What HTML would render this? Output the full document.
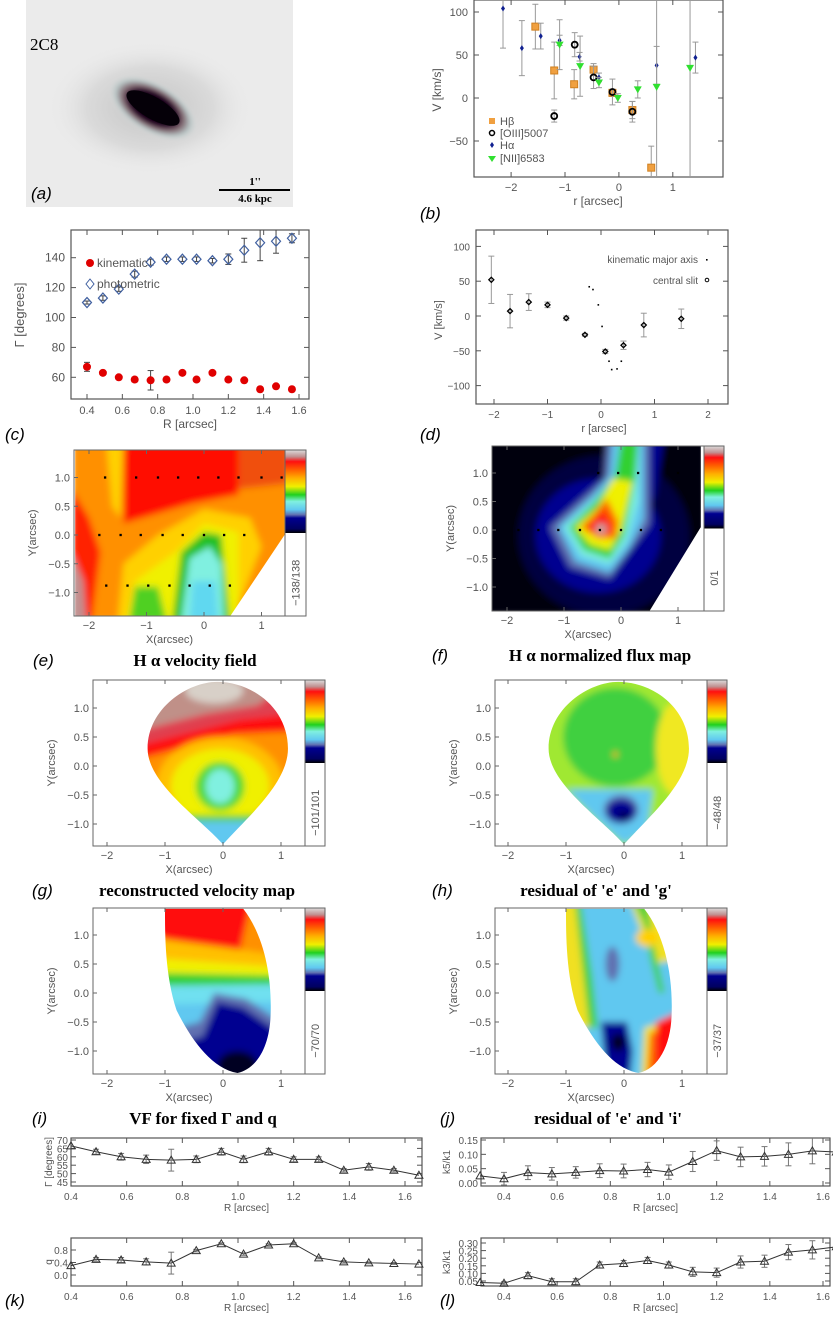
<!DOCTYPE html>
<html><head><meta charset="utf-8">
<style>
html,body{margin:0;padding:0;background:#fff}
svg{display:block}
text{font-family:"Liberation Sans",sans-serif;fill:#555}
.ser{font-family:"Liberation Serif",serif;font-weight:bold;fill:#000}
.pl{font-family:"Liberation Sans",sans-serif;font-style:italic;font-size:17px;fill:#000}
</style></head>
<body>
<svg id="fig" width="833" height="1317" viewBox="0 0 833 1317" xmlns="http://www.w3.org/2000/svg">
<defs>
<linearGradient id="cbar" x1="0" y1="0" x2="0" y2="1">
<stop offset="0" stop-color="#dcdcdc"/><stop offset="0.08" stop-color="#c09090"/>
<stop offset="0.14" stop-color="#ff1010"/><stop offset="0.24" stop-color="#ff6000"/>
<stop offset="0.34" stop-color="#ffb000"/><stop offset="0.44" stop-color="#f0f000"/>
<stop offset="0.54" stop-color="#20d020"/><stop offset="0.62" stop-color="#80f0e0"/>
<stop offset="0.72" stop-color="#60c8f0"/><stop offset="0.78" stop-color="#6070b0"/>
<stop offset="0.82" stop-color="#000090"/><stop offset="0.95" stop-color="#000060"/><stop offset="1" stop-color="#000"/>
</linearGradient>
<filter id="bl" x="-0.2" y="-0.2" width="1.4" height="1.4"><feGaussianBlur stdDeviation="0.06"/></filter>
<filter id="bl2"><feGaussianBlur stdDeviation="1.5"/></filter>
<radialGradient id="gal" cx="0.5" cy="0.5" r="0.5">
<stop offset="0" stop-color="#000"/><stop offset="0.5" stop-color="#200020"/><stop offset="0.66" stop-color="#806870"/><stop offset="0.82" stop-color="#b8c4c4"/><stop offset="1" stop-color="#e0e0e0" stop-opacity="0"/>
</radialGradient>
<radialGradient id="halo" cx="0.5" cy="0.5" r="0.5">
<stop offset="0" stop-color="#c4c4c4"/><stop offset="0.6" stop-color="#dadada"/><stop offset="1" stop-color="#ececec" stop-opacity="0"/>
</radialGradient>
<clipPath id="clipE"><polygon points="-2.24,1.49 1.4,1.49 1.4,0.0 0.45,-1.42 -2.24,-1.42"/></clipPath>
<clipPath id="clipF"><polygon points="-2.3,1.49 1.4,1.49 1.4,0.05 0.5,-1.42 -2.3,-1.42"/></clipPath>
<clipPath id="clipG"><path d="M0,-1.35 C-0.4,-0.9 -1.3,-0.3 -1.3,0.3 C-1.3,1.0 -0.6,1.45 -0.1,1.45 C0.5,1.45 1.12,1.0 1.12,0.3 C1.12,-0.3 0.4,-0.9 0,-1.35 Z"/></clipPath>
<clipPath id="clipI"><path d="M0.25,-1.38 C-0.2,-1.3 -0.55,-0.8 -0.8,-0.3 C-1.0,0.3 -1.0,1.0 -1.0,1.45 L0.35,1.45 C0.7,1.0 0.85,0.3 0.82,-0.4 C0.8,-0.9 0.6,-1.3 0.25,-1.38 Z"/></clipPath>
</defs>

<g>
<rect x="26" y="0" width="267" height="207" fill="#ebebeb"/>
<ellipse cx="150" cy="108" rx="105" ry="68" fill="url(#halo)"/>
<g transform="translate(153,108) rotate(30)"><ellipse cx="0" cy="0" rx="50" ry="26" fill="url(#gal)" filter="url(#bl2)"/><ellipse cx="0" cy="0" rx="30" ry="11" fill="#050008"/></g>
<text class="ser" x="30" y="50" font-size="17" style="font-weight:normal">2C8</text>
<line x1="219" y1="190" x2="290" y2="190" stroke="#000" stroke-width="2"/>
<text class="ser" x="255" y="185" font-size="11" text-anchor="middle">1''</text>
<text class="ser" x="255" y="202" font-size="11" text-anchor="middle">4.6 kpc</text>
</g>
<text class="pl" x="31" y="199">(a)</text>
<text class="pl" x="420" y="219">(b)</text>
<text class="pl" x="5" y="440">(c)</text>
<text class="pl" x="420" y="440">(d)</text>
<g id="charts"></g>
<g id="maps"></g>
</svg>
<script>
const NS='http://www.w3.org/2000/svg';
const root=document.getElementById('charts');
function mk(tag,attrs,parent){const e=document.createElementNS(NS,tag);for(const k in attrs)e.setAttribute(k,attrs[k]);(parent||root).appendChild(e);return e;}
function txt(s,x,y,size,anchor,parent,rot){const t=mk('text',{x:x,y:y,'font-size':size,'text-anchor':anchor||'middle'},parent);t.textContent=s;if(rot)t.setAttribute('transform','rotate(-90 '+x+' '+y+')');return t;}
function lin(a,b,c,d){return v=>c+(v-a)*(d-c)/(b-a);}

const bXTicks=[-2,-1,0,1];
const bYTicks=[-50,0,50,100];
const hbR=[-1.55,-1.2,-0.83,-0.47,-0.12,0.25,0.6];
const hbV=[83,32,16,33,6,-14,-81];
const hbE=[26,33,17,7,4,10,25];
const oR=[-1.2,-0.82,-0.47,-0.12,0.25];
const oV=[-21,62,24,7,-16];
const oE=[7,14,13,15,12];
const haR=[-2.15,-1.8,-1.45,-1.1,-0.73,-0.37,0.7,1.42];
const haV=[104,58,72,67,48,24,38,47];
const haE=[46,32,15,6,5,5,22,18];
const nR=[-1.1,-0.72,-0.37,-0.02,0.35,0.7,1.32];
const nV=[62,37,18,0,10,13,35];
const nE=[29,35,6,5,10,200,200];

const cR=[0.4,0.49,0.58,0.67,0.76,0.85,0.94,1.02,1.11,1.2,1.29,1.38,1.47,1.56];
const kinG=[67,63,60,58.5,58,58.5,63,58.5,63,58.5,58,52,54,52];
const kinE=[3,1,1,1.5,6.5,1.5,1,1,1,1,1,1,1,1];
const phoG=[110,113,119,129,137,139,139,139,138,139,145,150,151,153];
const phoE=[1,1.5,1.5,2,2,1.5,1.5,1.5,1.5,3.5,8,12,8,3];
const cXTicks=[0.4,0.6,0.8,1.0,1.2,1.4,1.6];
const cYTicks=[60,80,100,120,140];

const dR=[-2.05,-1.7,-1.35,-1,-0.65,-0.3,0.08,0.42,0.8,1.5];
const dV=[52,7,20,16,-3,-27,-51,-42,-13,-4];
const dE=[34,24,12,4,3,2,3,6,17,14];
const dkR=[-0.22,-0.15,-0.05,0.02,0.15,0.2,0.3,0.38];
const dkV=[42,38,16,-15,-65,-77,-76,-65];
const dXTicks=[-2,-1,0,1,2];
const dYTicks=[-100,-50,0,50,100];

const kR=[0.4,0.49,0.58,0.67,0.76,0.85,0.94,1.02,1.11,1.2,1.29,1.38,1.47,1.56,1.65];
const kG=[66.5,63,60,58.5,58,58.5,63,58.5,63,58.5,58.5,52,54,52,49];
const kGE=[0,1.5,2,2.5,6.5,2,2,2,2,1.5,1.5,1,2,1,0];
const kQ=[0.3,0.5,0.48,0.42,0.38,0.78,1.0,0.67,0.96,1.0,0.55,0.42,0.39,0.37,0.35];
const kQE=[0,0.06,0.08,0.1,0.35,0.04,0.03,0.04,0.04,0.03,0.03,0.04,0.03,0.03,0];
const lR=[0.31,0.4,0.49,0.58,0.67,0.76,0.85,0.94,1.02,1.11,1.2,1.29,1.38,1.47,1.56,1.65];
const lK5=[0.025,0.015,0.036,0.032,0.037,0.043,0.042,0.047,0.038,0.075,0.113,0.091,0.093,0.1,0.112,0.108];
const lK5E=[0,0.022,0.024,0.022,0.02,0.024,0.024,0.025,0.025,0.035,0.034,0.034,0.034,0.04,0.045,0];
const lK3=[0.04,0.035,0.085,0.045,0.045,0.155,0.165,0.185,0.155,0.11,0.105,0.175,0.18,0.24,0.255,0.275];
const lK3E=[0,0.01,0.02,0.02,0.02,0.02,0.02,0.02,0.02,0.03,0.03,0.04,0.04,0.05,0.06,0];

function frame(x0,y0,x1,y1,name){
  const r=mk('rect',{x:x0,y:y0,width:x1-x0,height:y1-y0,fill:'none',stroke:'#555','stroke-width':1.2});
  
  
}
function xticks(vals,fx,y0,y1,ly,size,fmt){
  vals.forEach(v=>{const x=fx(v);
    mk('line',{x1:x,y1:y1,x2:x,y2:y1-5,stroke:'#555'});mk('line',{x1:x,y1:y0,x2:x,y2:y0+5,stroke:'#555'});
    const t=txt(fmt?fmt(v):String(v).replace('-','−'),x,ly,size);
    
    
  });
}
function yticks(vals,fy,x0,x1,lx,size,fmt){
  vals.forEach(v=>{const y=fy(v);
    mk('line',{x1:x0,y1:y,x2:x0+5,y2:y,stroke:'#555'});mk('line',{x1:x1,y1:y,x2:x1-5,y2:y,stroke:'#555'});
    const t=txt(fmt?fmt(v):String(v).replace('-','−'),lx,y+4,size,'end');
    
    
  });
}
function errbar(x,y1,y2,col,top,bot){
  const yy1=Math.max(top,Math.min(bot,y1)),yy2=Math.max(top,Math.min(bot,y2));
  const g=mk('g',{});
  mk('line',{x1:x,y1:yy1,x2:x,y2:yy2,stroke:col||'#999','stroke-width':1},g);
  if(y1>=top&&y1<=bot)mk('line',{x1:x-3,y1:yy1,x2:x+3,y2:yy1,stroke:col||'#999'},g);
  if(y2>=top&&y2<=bot)mk('line',{x1:x-3,y1:yy2,x2:x+3,y2:yy2,stroke:col||'#999'},g);
  return g;
}

(function(){
  const X0=474,X1=723,Y0=0,Y1=177;
  const fx=lin(0,1,618.9,672.8), fy=lin(0,100,98,12);
  frame(X0,Y0,X1,Y1,'panel-b-frame');
  xticks(bXTicks,fx,Y0,Y1,191,11);
  yticks(bYTicks,fy,X0,X1,468,11);
  let t=txt('r [arcsec]',598,205,12);
  t=txt('V [km/s]',441,90,12,'middle',null,true);
  hbR.forEach((r,i)=>{const x=fx(r),y=fy(hbV[i]);errbar(x,fy(hbV[i]+hbE[i]),fy(hbV[i]-hbE[i]),'#999',Y0,Y1);
    const m=mk('rect',{x:x-3.5,y:y-3.5,width:7,height:7,fill:'#f0a040',stroke:'#d08020'});
    });
  oR.forEach((r,i)=>{const x=fx(r),y=fy(oV[i]);errbar(x,fy(oV[i]+oE[i]),fy(oV[i]-oE[i]),'#999',Y0,Y1);
    const m=mk('circle',{cx:x,cy:y,r:3,fill:'none',stroke:'#000','stroke-width':1.8});
    });
  haR.forEach((r,i)=>{const x=fx(r),y=fy(haV[i]);errbar(x,fy(haV[i]+haE[i]),fy(haV[i]-haE[i]),'#999',Y0,Y1);
    const m=mk('path',{d:`M${x},${y-3}L${x+2},${y}L${x},${y+3}L${x-2},${y}Z`,fill:'#102090'});
    });
  nR.forEach((r,i)=>{const x=fx(r),y=fy(nV[i]);errbar(x,fy(nV[i]+nE[i]),fy(nV[i]-nE[i]),'#999',Y0,Y1);
    const m=mk('path',{d:`M${x-4},${y-3}L${x+4},${y-3}L${x},${y+4}Z`,fill:'#30e030'});
    });
  const lg=mk('g',{});
  mk('rect',{x:489,y:118,width:6,height:6,fill:'#f0a040'},lg);txt('Hβ',500,125,11,'start',lg);
  mk('circle',{cx:492,cy:133,r:2.5,fill:'none',stroke:'#000','stroke-width':1.5},lg);txt('[OIII]5007',500,137,11,'start',lg);
  mk('path',{d:'M492,142L494,145L492,148L490,145Z',fill:'#102090'},lg);txt('Hα',500,149,11,'start',lg);
  mk('path',{d:'M488,156L496,156L492,162Z',fill:'#30e030'},lg);txt('[NII]6583',500,162,11,'start',lg);
})();

(function(){
  const X0=71,X1=309,Y0=230,Y1=399;
  const fx=lin(0.4,1.6,87,299), fy=lin(60,140,377.3,257.7);
  frame(X0,Y0,X1,Y1,'panel-c-frame');
  xticks(cXTicks,fx,Y0,Y1,414,11,v=>v.toFixed(1));
  yticks(cYTicks,fy,X0,X1,65,12);
  let t=txt('R [arcsec]',190,428,12);
  t=txt('Γ [degrees]',24,315,13,'middle',null,true);
  cR.forEach((r,i)=>{const x=fx(r);
    errbar(x,fy(phoG[i]+phoE[i]),fy(phoG[i]-phoE[i]),'#444',Y0,Y1);
    const y=fy(phoG[i]);
    const m=mk('path',{d:`M${x},${y-5}L${x+4.5},${y}L${x},${y+5}L${x-4.5},${y}Z`,fill:'none',stroke:'#4060a0','stroke-width':1.2});
    
    errbar(x,fy(kinG[i]+kinE[i]),fy(kinG[i]-kinE[i]),'#444',Y0,Y1);
    const k=mk('circle',{cx:x,cy:fy(kinG[i]),r:4,fill:'#e00000'});
    
  });
  const lg=mk('g',{});
  mk('circle',{cx:90,cy:263,r:4,fill:'#e00000'},lg);txt('kinematic',97,267,12,'start',lg);
  mk('path',{d:'M90,279L94,284L90,289L86,284Z',fill:'none',stroke:'#4060a0'},lg);txt('photometric',97,288,12,'start',lg);
})();

(function(){
  const X0=476,X1=728,Y0=230,Y1=404;
  const fx=lin(0,1,601,654.5), fy=lin(0,100,316,246.4);
  frame(X0,Y0,X1,Y1,'panel-d-frame');
  xticks(dXTicks,fx,Y0,Y1,418,10);
  yticks(dYTicks,fy,X0,X1,470,10);
  let t=txt('r [arcsec]',604,432,11);
  t=txt('V [km/s]',442,320,11,'middle',null,true);
  dR.forEach((r,i)=>{const x=fx(r);errbar(x,fy(dV[i]+dE[i]),fy(dV[i]-dE[i]),'#999',Y0,Y1);
    const m=mk('path',{d:`M${x},${fy(dV[i])-2.5}L${x+2.5},${fy(dV[i])}L${x},${fy(dV[i])+2.5}L${x-2.5},${fy(dV[i])}Z`,fill:'none',stroke:'#000','stroke-width':1.3});
    });
  dkR.forEach((r,i)=>{const m=mk('rect',{x:fx(r)-0.8,y:fy(dkV[i])-0.8,width:1.6,height:1.6,fill:'#000'});
    });
  const lg=mk('g',{});
  txt('kinematic major axis',698,263,10,'end',lg);mk('rect',{x:706,y:259,width:1.6,height:1.6,fill:'#000'},lg);
  txt('central slit',698,284,10,'end',lg);mk('circle',{cx:707,cy:280,r:1.8,fill:'none',stroke:'#000'},lg);
})();

function linePanel(X0,X1,Y0,Y1,fx,fy,xs,ys,es,xt,yt,yfmt,lx,ytitle,tx,name){
  frame(X0,Y0,X1,Y1,name+'-frame');
  xticks(xt,fx,Y0,Y1,Y1+14,10,v=>v.toFixed(1));
  yticks(yt,fy,X0,X1,X0-3,10,yfmt);
  let pts=xs.map((r,i)=>fx(r)+','+fy(ys[i])).join(' ');
  const pl=mk('polyline',{points:pts,fill:'none',stroke:'#333','stroke-width':1});
  
  xs.forEach((r,i)=>{const x=fx(r),y=fy(ys[i]);
    if(es[i]>0)errbar(x,fy(ys[i]+es[i]),fy(ys[i]-es[i]),'#777',Y0,Y1);
    const m=mk('path',{d:`M${x},${y-4}L${x+4},${y+3}L${x-4},${y+3}Z`,fill:'none',stroke:'#333'});
    });
  let t=txt('R [arcsec]',(X0+X1)/2,Y1+25,10);
  t=txt(ytitle,tx,(Y0+Y1)/2,10,'middle',null,true);
}
linePanel(71,422,1138,1186,lin(0.4,1.6,71,405),lin(45,70,1182,1140),kR,kG,kGE,[0.4,0.6,0.8,1.0,1.2,1.4,1.6],[45,50,55,60,65,70],null,0,'Γ [degrees]',52,'gamma-panel');
linePanel(71,422,1238,1286,lin(0.4,1.6,71,405),lin(0,0.8,1275,1250),kR,kQ,kQE,[0.4,0.6,0.8,1.0,1.2,1.4,1.6],[0,0.4,0.8],v=>v.toFixed(1),0,'q',52,'q-panel');
linePanel(481,830,1138,1186,lin(0.4,1.6,504,823),lin(0,0.15,1183,1140),lR,lK5,lK5E,[0.4,0.6,0.8,1.0,1.2,1.4,1.6],[0,0.05,0.10,0.15],v=>v.toFixed(2),0,'k5/k1',450,'k5-panel');
linePanel(481,830,1238,1286,lin(0.4,1.6,504,823),lin(0.05,0.30,1281,1243),lR,lK3,lK3E,[0.4,0.6,0.8,1.0,1.2,1.4,1.6],[0.05,0.10,0.15,0.20,0.25,0.30],v=>v.toFixed(2),0,'k3/k1',450,'k3-panel');
(function(){let t;
 t=txt('(k)',5,1306,17,'start');t.setAttribute('class','pl');
 t=txt('(l)',440,1306,17,'start');t.setAttribute('class','pl');
})();

const M=document.getElementById('maps');
const mapXTicks=[-2,-1,0,1];
const mapYTicks=[-1.0,-0.5,0.0,0.5,1.0];
function mapPanel(cfg){
  const {X0,X1,Y0,Y1,CB,cx,cy,s,range,title,lab,labx,titlex,name,clip,draw,cbSplit}=cfg;
  const g=mk('g',{},M);
  const inner=mk('g',{'clip-path':`url(#clipR_${name})`},g);
  const cp=mk('clipPath',{id:'clipR_'+name},g);mk('rect',{x:X0,y:Y0,width:X1-X0,height:Y1-Y0},cp);
  const d=mk('g',{transform:`translate(${cx},${cy}) scale(${s},${-s})`},inner);
  const d2=mk('g',{'clip-path':`url(#${clip})`},d);
  const d3=mk('g',{filter:'url(#bl)'},d2);
  draw(d3,d2);
  mk('rect',{x:X0,y:Y0,width:X1-X0,height:Y1-Y0,fill:'none',stroke:'#666'},g);
  const cb=mk('rect',{x:X1,y:Y0,width:CB-X1,height:(Y1-Y0)*cbSplit,fill:'url(#cbar)'},g);
  
  mk('rect',{x:X1,y:Y0,width:CB-X1,height:Y1-Y0,fill:'none',stroke:'#666'},g);
  let t=txt(range,(X1+CB)/2+4,Y0+(Y1-Y0)*0.8,11,'middle',g,true);
  mapXTicks.forEach(v=>{const x=cx+v*s;if(x<X0-2)return;
    mk('line',{x1:x,y1:Y1,x2:x,y2:Y1-4,stroke:'#666'},g);mk('line',{x1:x,y1:Y0,x2:x,y2:Y0+4,stroke:'#666'},g);
    const tt=txt(String(v).replace('-','−'),x,Y1+13,11,'middle',g);});
  mapYTicks.forEach(v=>{const y=cy-v*s;
    mk('line',{x1:X0,y1:y,x2:X0+4,y2:y,stroke:'#666'},g);
    const tt=txt(v.toFixed(1).replace('-','−'),X0-4,y+4,11,'end',g);});
  t=txt('X(arcsec)',(X0+X1)/2-10,Y1+27,11,'middle',g);
  t=txt('Y(arcsec)',X0-38,(Y0+Y1)/2,11,'middle',g,true);
  t=txt(lab,labx,Y1+50,17,'start',g);t.setAttribute('class','pl');
  t=txt(title,titlex,Y1+50,17,'middle',g);t.setAttribute('class','ser');
}
function P(g,pts,fill){return mk('polygon',{points:pts,fill:fill},g);}
function E(g,cx,cy,rx,ry,fill,rot){return mk('ellipse',{cx:cx,cy:cy,rx:rx,ry:ry,fill:fill,transform:rot?`rotate(${rot} ${cx} ${cy})`:''},g);}
function dots(g,pts){pts.forEach(p=>mk('rect',{x:p[0]-0.02,y:p[1]-0.02,width:0.04,height:0.04,fill:'#000'},g));}

mapPanel({name:'map-e',X0:74,X1:285,Y0:450,Y1:616,CB:306,cx:204,cy:535,s:57.5,cbSplit:0.5,range:'−138/138',lab:'(e)',labx:33,title:'H α velocity field',titlex:195,clip:'clipE',
 draw:(g,raw)=>{
  P(g,'-2.3,1.6 1.5,1.6 1.5,-1.5 -2.3,-1.5','#ff9000');
  P(g,'-1.4,1.6 0.6,1.6 0.6,0.7 -0.2,0.55 -1.4,0.2','#ff1000');
  P(g,'0.6,1.6 1.5,1.6 1.5,0.9 0.6,0.8','#f05010');
  P(g,'-1.7,1.6 -1.4,1.6 -1.45,0.3 -1.6,0.5','#ffd000');
  P(g,'-2.3,0.8 -2.0,0.3 -1.8,-0.3 -1.95,-1.5 -2.3,-1.5','#ff2000');
  P(g,'-2.3,-0.3 -2.1,-0.8 -2.05,-1.5 -2.3,-1.5','#c09090');
  P(g,'-1.5,-1.5 -1.4,-0.5 -0.8,0.0 0.0,0.45 0.8,0.3 1.0,-0.2 0.5,-1.5','#ffd000');
  P(g,'-1.35,-1.5 -1.2,-0.8 -0.5,-0.3 0,0.2 0.6,0.05 0.6,-1.5','#f0f000');
  P(g,'-1.3,-1.5 -1.2,-0.9 -0.8,-0.9 -0.65,-1.5','#50d020');
  P(g,'-0.55,-1.5 -0.4,-0.3 0,0.05 0.3,0.0 0.45,-1.5','#20c020');
  P(g,'-0.4,-1.5 -0.25,-0.4 0.1,-0.2 0.3,-0.5 0.35,-1.5','#80f0e0');
  P(g,'-0.25,-1.5 -0.2,-0.8 0.2,-0.8 0.25,-1.5','#60d8f0');
  dots(raw,[[-1.72,1],[-1.18,1],[-0.8,1],[-0.45,1],[-0.1,1],[0.25,1],[0.6,1],[1.0,1],[1.35,1],[-1.82,0],[-1.45,0],[-1.1,0],[-0.72,0],[-0.37,0],[0,0],[0.35,0],[0.7,0],[-1.7,-0.88],[-1.33,-0.88],[-0.97,-0.88],[-0.6,-0.88],[-0.25,-0.88],[0.1,-0.88],[0.45,-0.88]]);
 }});
mapPanel({name:'map-f',X0:492,X1:704,Y0:446,Y1:611,CB:724,cx:621,cy:530,s:57,cbSplit:0.5,range:'0/1',lab:'(f)',labx:432,title:'H α normalized flux map',titlex:600,clip:'clipF',
 draw:(g,raw)=>{
  P(g,'-2.4,1.6 1.5,1.6 1.5,-1.5 -2.4,-1.5','#000010');
  E(g,-0.3,-0.1,1.5,1.4,'#000040');
  E(g,-0.4,-0.1,1.1,1.0,'#000090');
  P(g,'-0.2,1.6 0.75,1.6 0.6,0.6 0.4,0.2 0.0,0.4','#000090');
  P(g,'-1.25,0.05 -0.9,-0.65 -0.2,-0.85 0.2,-0.3 0.5,0.1 0.5,1.6 -0.25,1.6 -0.3,0.9','#6070b0');
  P(g,'-1.1,0.05 -0.8,-0.55 -0.2,-0.75 0.15,-0.3 0.4,0.2 0.4,1.6 -0.15,1.6 -0.2,0.95 -0.5,0.6','#60c8f0');
  P(g,'-1.0,0.05 -0.7,-0.45 -0.2,-0.6 0.1,-0.2 0.3,0.5 0.3,1.6 0.05,1.6 -0.1,0.9 -0.5,0.5','#80f0e0');
  P(g,'-0.9,0.05 -0.65,-0.35 -0.2,-0.5 0.05,-0.1 0.25,0.9 0.3,1.6 0.0,1.6 -0.1,0.95 -0.45,0.5','#30d030');
  P(g,'-0.8,0.05 -0.55,-0.25 -0.2,-0.35 0.0,0.0 0.2,0.85 -0.15,0.9 -0.4,0.4','#f0f000');
  P(g,'-0.7,0.05 -0.4,-0.15 -0.1,-0.15 -0.05,0.15 -0.25,0.55 -0.5,0.25','#ff6000');
  P(g,'-0.6,0.02 -0.35,-0.08 -0.15,0.0 -0.3,0.35','#ff1010');
  E(g,-0.35,0.02,0.1,0.1,'#c0a0a0');
  dots(raw,[[-1.8,0],[-1.45,0],[-1.1,0],[-0.72,0],[-0.37,0],[0,0],[0.35,0],[0.7,0],[-0.4,1],[-0.05,1],[0.3,1],[1.0,1]]);
 }});
mapPanel({name:'map-g',X0:93,X1:305,Y0:680,Y1:846,CB:325,cx:223,cy:766,s:58,cbSplit:0.5,range:'−101/101',lab:'(g)',labx:32,title:'reconstructed velocity map',titlex:197,clip:'clipG',
 draw:(g)=>{
  P(g,'-1.5,1.6 1.3,1.6 1.3,-1.5 -1.5,-1.5','#ff9000');
  P(g,'-1.5,1.6 1.3,1.6 1.3,0.6 0.2,0.55 -1.5,0.1','#ff1010');
  P(g,'-1.5,1.6 1.3,1.6 1.3,0.9 0.3,0.8 -1.5,0.35','#e04050');
  P(g,'-1.5,1.6 1.3,1.6 0.6,1.05 -0.3,0.9 -1.5,0.6','#c09088');
  E(g,-0.15,1.3,0.5,0.22,'#d8d0c8');
  E(g,-0.05,-0.35,1.1,0.85,'#ffc000');
  E(g,-0.05,-0.35,0.85,0.65,'#f0f000');
  E(g,-0.05,-0.35,0.42,0.42,'#50d830');
  E(g,-0.05,-0.35,0.25,0.3,'#80f0e0');
  P(g,'-1.5,-0.85 1.3,-0.85 1.3,-1.5 -1.5,-1.5','#50d030');
  P(g,'-1.5,-0.95 1.3,-0.95 1.3,-1.5 -1.5,-1.5','#60c8f0');
 }});
mapPanel({name:'map-h',X0:495,X1:707,Y0:680,Y1:846,CB:727,cx:624,cy:766,s:58,cbSplit:0.5,range:'−48/48',lab:'(h)',labx:432,title:"residual of 'e' and 'g'",titlex:596,clip:'clipG',
 draw:(g)=>{
  P(g,'-1.5,1.6 1.3,1.6 1.3,-1.5 -1.5,-1.5','#a0e830');
  E(g,-0.15,0.5,0.9,0.85,'#40d040');
  E(g,0.9,0.3,0.35,0.8,'#f0e820');
  P(g,'-1.0,-0.4 0.5,-0.4 0.4,-1.1 0,-1.35 -0.4,-1.0','#60c8f0');
  E(g,-0.05,-0.75,0.3,0.25,'#6070b0');
  E(g,-0.05,-0.78,0.25,0.2,'#000090');
  E(g,0.0,-0.85,0.1,0.05,'#000030');
  E(g,-0.15,0.2,0.04,0.05,'#ffa000');
 }});
mapPanel({name:'map-i',X0:93,X1:305,Y0:908,Y1:1074,CB:325,cx:223,cy:993,s:58,cbSplit:0.5,range:'−70/70',lab:'(i)',labx:32,title:'VF for fixed Γ and q',titlex:203,clip:'clipI',
 draw:(g)=>{
  P(g,'-1.2,1.6 1.0,1.6 1.0,0.6 -1.2,0.9','#ff9000');
  P(g,'-1.2,1.6 0.5,1.6 0.3,0.75 -0.3,0.7 -1.2,1.0','#ff1010');
  P(g,'-1.2,0.95 1.0,0.65 1.0,0.45 -1.2,0.6','#ffc000');
  P(g,'-1.2,0.6 1.0,0.45 1.0,0.3 -1.2,0.35','#f0f000');
  P(g,'-1.2,0.35 1.0,0.3 1.0,0.15 -1.2,0.12','#30d030');
  P(g,'-1.2,0.12 1.0,0.15 1.0,-1.5 -1.2,-1.5','#70e0f0');
  P(g,'-1.2,-0.2 1.0,-0.15 1.0,-1.5 -1.2,-1.5','#60c8f0');
  P(g,'-1.2,-0.7 -0.4,-0.5 -0.15,0.0 0.4,-0.1 1.0,-0.5 1.0,-1.5 -1.2,-1.5','#6070b0');
  P(g,'-1.2,-0.95 -0.35,-0.75 -0.1,-0.15 0.35,-0.25 1.0,-0.7 1.0,-1.5 -1.2,-1.5','#000090');
  E(g,0.25,-1.25,0.35,0.25,'#000020');
 }});
mapPanel({name:'map-j',X0:495,X1:707,Y0:908,Y1:1074,CB:727,cx:624,cy:993,s:58,cbSplit:0.5,range:'−37/37',lab:'(j)',labx:440,title:"residual of 'e' and 'i'",titlex:608,clip:'clipI',
 draw:(g)=>{
  P(g,'-1.2,1.6 1.0,1.6 1.0,-1.5 -1.2,-1.5','#60c8f0');
  P(g,'-1.2,1.6 -0.85,1.6 -0.6,0.3 -0.55,-0.6 -1.2,-0.6','#f0e020');
  P(g,'-0.85,1.6 -0.75,1.6 -0.55,0.3 -0.45,-0.6 -0.6,-0.6','#40d040');
  P(g,'0.1,1.6 1.0,1.6 1.0,0.6 0.5,0.5 0.4,0.8','#f0e020');
  P(g,'0.15,1.6 0.35,1.2 0.45,0.6 0.6,0.0 0.7,0.0 0.5,0.9 0.4,1.6','#40d040');
  E(g,0.4,0.95,0.2,0.15,'#ffd000');
  E(g,-0.2,0.5,0.12,0.3,'#6070b0');
  P(g,'0.35,-0.6 1.0,-0.4 1.0,-1.5 0.3,-1.5','#f0e020');
  P(g,'0.45,-0.7 1.0,-0.5 1.0,-1.5 0.4,-1.5','#ff6000');
  P(g,'0.55,-0.5 1.0,-0.3 1.0,-1.5 0.55,-1.5','#ff1010');
  P(g,'-0.4,-0.5 0.05,-0.5 0.15,-1.0 0.1,-1.5 -0.3,-1.5','#000090');
  E(g,-0.1,-0.85,0.12,0.15,'#000020');
 }});
</script>
</body></html>
